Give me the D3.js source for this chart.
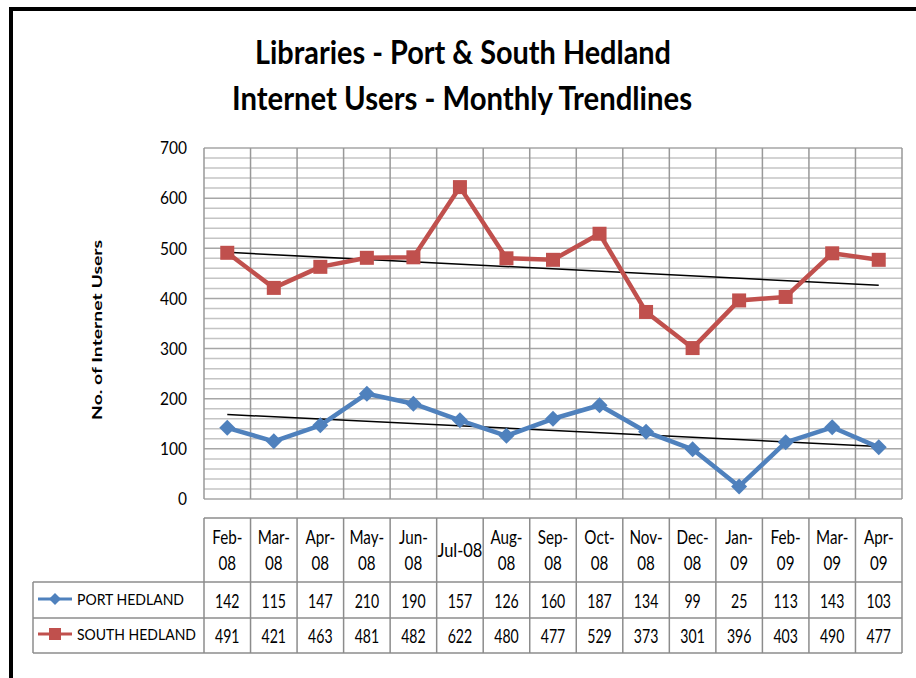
<!DOCTYPE html>
<html><head><meta charset="utf-8">
<script src="https://cdn.jsdelivr.net/npm/d3@7"></script>
<style>body{margin:0;background:#fff}svg{display:block}</style>
</head><body>
<svg id="c" width="916" height="678"></svg>
<script>
const categories = [["Feb-","08"],["Mar-","08"],["Apr-","08"],["May-","08"],["Jun-","08"],["Jul-08"],["Aug-","08"],["Sep-","08"],["Oct-","08"],["Nov-","08"],["Dec-","08"],["Jan-","09"],["Feb-","09"],["Mar-","09"],["Apr-","09"]];
const portHedland = [142,115,147,210,190,157,126,160,187,134,99,25,113,143,103];
const southHedland = [491,421,463,481,482,622,480,477,529,373,301,396,403,490,477];
const seriesNames = ["PORT HEDLAND","SOUTH HEDLAND"];
const yTicks = [0,100,200,300,400,500,600,700];

const FONT = "Lato, 'Open Sans', sans-serif";
const svg = d3.select("#c");
const keys = categories.map(c => c.join(""));
const x = d3.scaleBand().domain(keys).range([204, 902]);
const y = d3.scaleLinear().domain([0, 700]).range([499, 148]);

function condense(sel, f) {
  sel.each(function () {
    const w = this.getComputedTextLength();
    d3.select(this).attr("textLength", w * f).attr("lengthAdjust", "spacingAndGlyphs");
  });
}

// frame
svg.append("line").attr("x1", 9).attr("x2", 916).attr("y1", 9).attr("y2", 9).attr("stroke", "#000").attr("stroke-width", 4);
svg.append("line").attr("x1", 11).attr("x2", 11).attr("y1", 7).attr("y2", 678).attr("stroke", "#000").attr("stroke-width", 4);

// title
svg.append("text").attr("x", 463).attr("y", 64).attr("text-anchor", "middle")
  .attr("font-family", FONT).attr("font-weight", "bold").attr("font-size", 32)
  .attr("textLength", 416).attr("lengthAdjust", "spacingAndGlyphs").text("Libraries - Port & South Hedland");
svg.append("text").attr("x", 462).attr("y", 110).attr("text-anchor", "middle")
  .attr("font-family", FONT).attr("font-weight", "bold").attr("font-size", 32)
  .attr("textLength", 460).attr("lengthAdjust", "spacingAndGlyphs").text("Internet Users - Monthly Trendlines");

// grid
const g = svg.append("g");
d3.range(0, 701, 20).forEach(v => {
  g.append("line").attr("x1", 204).attr("x2", 902).attr("y1", y(v)).attr("y2", y(v))
    .attr("stroke", v % 100 === 0 ? "#a6a6a6" : "#c4c4c4").attr("stroke-width", 1.5);
});
keys.forEach(k => {
  g.append("line").attr("x1", x(k)).attr("x2", x(k)).attr("y1", 148).attr("y2", 499)
    .attr("stroke", "#999").attr("stroke-width", 1.5);
});
g.append("line").attr("x1", 902).attr("x2", 902).attr("y1", 148).attr("y2", 499).attr("stroke", "#999").attr("stroke-width", 1.5);

// y axis
const yAxis = d3.axisLeft(y).tickValues(yTicks).tickSize(0).tickPadding(17);
const ya = svg.append("g").attr("transform", "translate(204,0)").call(yAxis);
ya.select(".domain").remove();
ya.selectAll("text").attr("font-family", FONT).attr("font-size", 18).attr("fill", "#000");
condense(ya.selectAll("text"), 0.86);

svg.append("text").attr("transform", "translate(102,330) rotate(-90)").attr("text-anchor", "middle")
  .attr("font-family", FONT).attr("font-weight", "bold").attr("font-size", 14)
  .attr("textLength", 180).attr("lengthAdjust", "spacingAndGlyphs").text("No. of Internet Users");

const cx = k => x(k) + x.bandwidth() / 2;

// trendlines
function trend(vals) {
  const n = vals.length, xs = d3.range(1, n + 1);
  const mx = d3.mean(xs), my = d3.mean(vals);
  const b = d3.sum(xs, (xi, i) => (xi - mx) * (vals[i] - my)) / d3.sum(xs, xi => (xi - mx) ** 2);
  const a = my - b * mx;
  return [[keys[0], a + b * 1], [keys[n - 1], a + b * n]];
}
[portHedland, southHedland].forEach(vals => {
  const t = trend(vals);
  svg.append("line").attr("x1", cx(t[0][0])).attr("y1", y(t[0][1])).attr("x2", cx(t[1][0])).attr("y2", y(t[1][1]))
    .attr("stroke", "#000").attr("stroke-width", 1.5);
});

const colors = ["#4F81BD", "#C0504D"];
const line = d3.line().x((d, i) => cx(keys[i])).y(d => y(d));
function diamond(sel, px, py, s, col) {
  sel.append("path").attr("d", `M${px},${py - s}L${px + s},${py}L${px},${py + s}L${px - s},${py}Z`).attr("fill", col);
}
function square(sel, px, py, s, col) {
  sel.append("rect").attr("x", px - s).attr("y", py - s).attr("width", 2 * s).attr("height", 2 * s).attr("fill", col);
}
[portHedland, southHedland].forEach((vals, si) => {
  svg.append("path").datum(vals).attr("d", line).attr("fill", "none").attr("stroke", colors[si])
    .attr("stroke-width", 4.5).attr("stroke-linejoin", "round");
  vals.forEach((v, i) => {
    if (si === 0) diamond(svg, cx(keys[i]), y(v), 8, colors[0]);
    else square(svg, cx(keys[i]), y(v), 7, colors[1]);
  });
});

// data table
const tb = svg.append("g");
const hTop = 518, r1 = 582, r2 = 618, r3 = 653, legL = 33;
const bc = "#8c8c8c";
function hl(x1, x2, yy) { tb.append("line").attr("x1", x1).attr("x2", x2).attr("y1", yy).attr("y2", yy).attr("stroke", bc).attr("stroke-width", 1.5); }
function vl(xx, y1, y2) { tb.append("line").attr("x1", xx).attr("x2", xx).attr("y1", y1).attr("y2", y2).attr("stroke", bc).attr("stroke-width", 1.5); }
hl(204, 902, hTop); hl(legL, 902, r1); hl(legL, 902, r2); hl(legL, 902, r3);
vl(legL, r1, r3);
keys.forEach(k => vl(x(k), hTop, r3));
vl(902, hTop, r3);

categories.forEach((c, i) => {
  if (c.length === 2) {
    c.forEach((s, j) => {
      const t = tb.append("text").attr("x", cx(keys[i])).attr("y", 544 + j * 26).attr("text-anchor", "middle")
        .attr("font-family", FONT).attr("font-size", 19).attr("fill", "#000").text(s);
      condense(t, 0.8);
    });
  } else {
    tb.append("text").attr("x", cx(keys[i])).attr("y", 557).attr("text-anchor", "middle")
      .attr("font-family", FONT).attr("font-size", 19).attr("fill", "#000")
      .attr("textLength", 45).attr("lengthAdjust", "spacingAndGlyphs").text(c[0]);
  }
});
[portHedland, southHedland].forEach((vals, si) => {
  const ry = si === 0 ? 608 : 643;
  vals.forEach((v, i) => {
    const t = tb.append("text").attr("x", cx(keys[i])).attr("y", ry).attr("text-anchor", "middle")
      .attr("font-family", FONT).attr("font-size", 19).attr("fill", "#000").text(v);
    condense(t, 0.74);
  });
  const ly = si === 0 ? 599 : 634;
  tb.append("line").attr("x1", 38).attr("x2", 72).attr("y1", ly).attr("y2", ly).attr("stroke", colors[si]).attr("stroke-width", 3);
  if (si === 0) diamond(tb, 55, ly, 6, colors[0]); else square(tb, 55, ly, 6, colors[1]);
  tb.append("text").attr("x", 77).attr("y", ly + 6).attr("font-family", FONT).attr("font-size", 16)
    .attr("textLength", si === 0 ? 107 : 119).attr("lengthAdjust", "spacingAndGlyphs").text(seriesNames[si]);
});
</script>
</body></html>
